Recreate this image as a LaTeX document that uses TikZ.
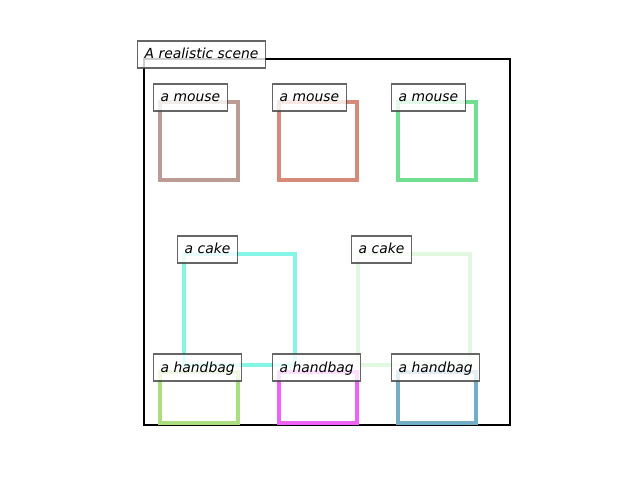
\documentclass[tikz,border=0pt]{standalone}
\usepackage{fontspec}
\setmainfont{DejaVu Sans}
\begin{document}
\begin{tikzpicture}[x=0.72bp,y=-0.72bp,
  lab/.style={draw=black!75, draw opacity=0.8, fill=white, fill opacity=0.8, text opacity=1,
    line width=1bp, anchor=base west, inner xsep=5.04bp, inner ysep=0pt,
    text height=12.96bp, text depth=6.48bp, font=\itshape\fontsize{10bp}{12bp}\selectfont},
  obj/.style={line width=2.2bp}]
\useasboundingbox (0,0) rectangle (640,480);
\definecolor{cm1}{HTML}{BA9C94}
\definecolor{cm2}{HTML}{D88A7A}
\definecolor{cm3}{HTML}{72DE92}
\definecolor{cc1}{HTML}{84F6E6}
\definecolor{cc2}{HTML}{E2F8E0}
\definecolor{ch1}{HTML}{AADE7E}
\definecolor{ch2}{HTML}{EE62F8}
\definecolor{ch3}{HTML}{72AEC6}
\draw[line width=2bp] (144,59) rectangle (510,425);
\draw[obj, draw=cm1] (160,102) rectangle (238,180);
\draw[obj, draw=cm2] (279,102) rectangle (357,180);
\draw[obj, draw=cm3] (398,102) rectangle (476,180);
\draw[obj, draw=cc1] (184,254) rectangle (295,365);
\draw[obj, draw=cc2] (358,254) rectangle (470,365);
\draw[obj, draw=ch1] (160,372) rectangle (238,423);
\draw[obj, draw=ch2] (279,372) rectangle (357,423);
\draw[obj, draw=ch3] (398,372) rectangle (476,423);
\node[lab] (scene) at (137,59) {A realistic scene};
\node[lab] (m1) at (153,102) {a mouse};
\node[lab] (m2) at (272,102) {a mouse};
\node[lab] (m3) at (391,102) {a mouse};
\node[lab] (c1) at (177,254) {a cake};
\node[lab] (c2) at (351,254) {a cake};
\node[lab] (h1) at (153,372) {a handbag};
\node[lab] (h2) at (272,372) {a handbag};
\node[lab] (h3) at (391,372) {a handbag};
\end{tikzpicture}
\end{document}
